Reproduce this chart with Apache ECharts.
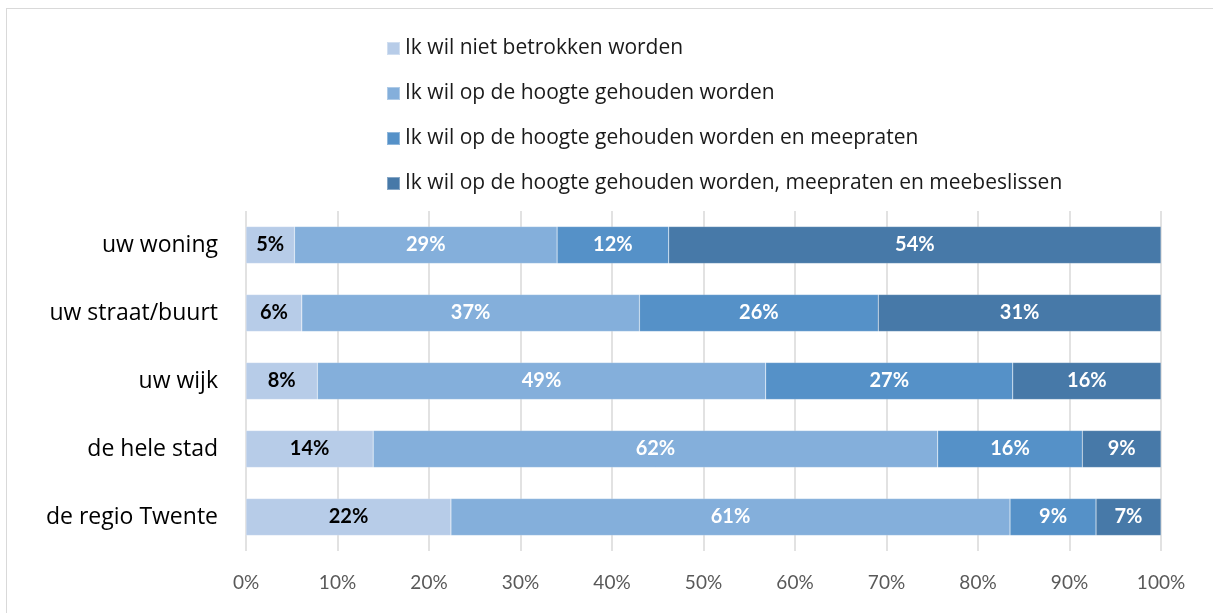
<!DOCTYPE html>
<html>
<head>
<meta charset="utf-8">
<script src="https://cdn.jsdelivr.net/npm/echarts@6/dist/echarts.min.js"></script>
<style>
  html, body { margin: 0; padding: 0; background: #fff; }
  #frame { position: absolute; left: 6px; top: 8px; width: 1230px; height: 640px; border: 1.5px solid #d9d9d9; box-sizing: border-box; }
  #chart { position: absolute; left: 0; top: 0; width: 1213px; height: 613px; }
</style>
</head>
<body>
<div id="frame"></div>
<div id="chart"></div>
<script>
// Categories (top to bottom) and the share of each answer per level, in %
const categories = ['uw woning', 'uw straat/buurt', 'uw wijk', 'de hele stad', 'de regio Twente'];
const seriesNames = [
  'Ik wil niet betrokken worden',
  'Ik wil op de hoogte gehouden worden',
  'Ik wil op de hoogte gehouden worden en meepraten',
  'Ik wil op de hoogte gehouden worden, meepraten en meebeslissen'
];
const nietBetrokken = [5.3, 6.1, 7.8, 13.9, 22.4];
const opDeHoogte = [28.7, 36.9, 49.0, 61.7, 61.1];
const meepraten = [12.2, 26.1, 27.0, 15.8, 9.4];
const meebeslissen = [53.8, 30.9, 16.2, 8.6, 7.1];
const tickLabels = ['0%', '10%', '20%', '30%', '40%', '50%', '60%', '70%', '80%', '90%', '100%'];

const colors = ['#b7cce8', '#84afdb', '#5591c8', '#4779a8'];
const labelColors = ['#000000', '#ffffff', '#ffffff', '#ffffff'];
const values = [nietBetrokken, opDeHoogte, meepraten, meebeslissen];
const bodyFont = "'Open Sans', sans-serif";
const numberFont = "Lato, 'Open Sans', sans-serif";

const chart = echarts.init(document.getElementById('chart'), null, { renderer: 'canvas' });
chart.setOption({
  animation: false,
  textStyle: { fontFamily: numberFont },
  legend: {
    orient: 'vertical',
    left: 381,
    top: 33,
    itemWidth: 13,
    itemHeight: 13,
    itemGap: 24,
    icon: 'rect',
    textStyle: { fontSize: 21, color: '#1a1a1a', fontFamily: bodyFont, lineHeight: 20 },
    data: seriesNames
  },
  grid: { left: 246, right: 52, top: 211, height: 340, containLabel: false },
  xAxis: {
    type: 'value',
    min: 0,
    max: 100,
    interval: 10,
    axisLine: { show: false },
    axisTick: { show: false },
    splitLine: { show: true, lineStyle: { color: '#d9d9d9', width: 1.5 } },
    axisLabel: {
      margin: 22,
      fontSize: 19,
      color: '#595959',
      fontFamily: numberFont,
      formatter: (v) => tickLabels[Math.round(v / 10)]
    }
  },
  yAxis: {
    type: 'category',
    inverse: true,
    data: categories,
    axisLine: { show: false },
    axisTick: { show: false },
    axisLabel: { margin: 28, fontSize: 23, color: '#000000', fontFamily: bodyFont }
  },
  series: seriesNames.map((name, i) => ({
    name: name,
    type: 'bar',
    stack: 'totaal',
    barWidth: 37,
    data: values[i],
    itemStyle: { color: colors[i], borderColor: 'rgba(255,255,255,0.35)', borderWidth: 0.5 },
    label: {
      show: true,
      position: 'inside',
      fontSize: 20,
      fontWeight: 'bold',
      fontFamily: numberFont,
      color: labelColors[i],
      formatter: (p) => Math.round(p.value) + '%'
    }
  }))
});
</script>
</body>
</html>
